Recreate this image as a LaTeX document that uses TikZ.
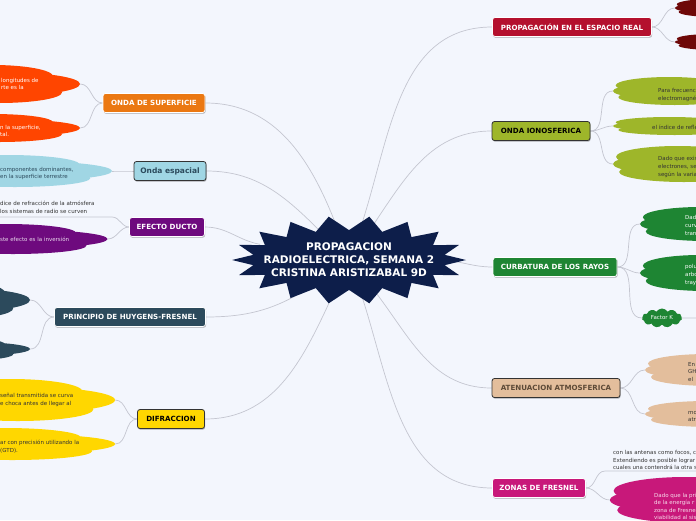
\documentclass[tikz,border=0pt]{standalone}
\usepackage{fontspec}
\setmainfont{DejaVu Sans}
\usetikzlibrary{shapes.geometric,shapes.symbols,shadows,backgrounds,positioning}
\definecolor{mmbg}{RGB}{243,246,253}
\definecolor{mmlink}{RGB}{196,198,208}
\definecolor{mmhub}{RGB}{13,30,74}
\definecolor{mmorange}{RGB}{235,120,18}
\definecolor{mmred}{RGB}{255,69,0}
\definecolor{mmsky}{RGB}{160,214,228}
\definecolor{mmslate}{RGB}{44,74,92}
\definecolor{mmpurple}{RGB}{110,10,126}
\definecolor{mmyellow}{RGB}{255,215,0}
\definecolor{mmcrimson}{RGB}{180,16,46}
\definecolor{mmmaroon}{RGB}{110,8,8}
\definecolor{mmolive}{RGB}{158,182,42}
\definecolor{mmgreen}{RGB}{30,133,51}
\definecolor{mmtan}{RGB}{227,190,156}
\definecolor{mmmagenta}{RGB}{200,24,122}
\definecolor{mmink}{RGB}{51,51,51}
\tikzset{
  branch/.style={rounded corners=2.5pt,minimum height=19pt,inner xsep=4pt,line width=.8pt,
    font=\bfseries\fontsize{7.1}{8}\selectfont,
    drop shadow={shadow xshift=.6pt,shadow yshift=-1.2pt,opacity=.3,fill=black}},
  darkbranch/.style={branch,draw=white,text=white},
  lightbranch/.style={branch,draw=mmink},
  leafbody/.style={ellipse,inner sep=0pt},
  note/.style={font=\fontsize{5.5}{7.6}\selectfont,align=left,anchor=west,inner sep=0pt},
  link/.style={draw=mmlink,line width=.7pt}
}
% cloud leaf: name, colour, x, y, width, height
\newcommand\leafblob[6]{%
  \fill[#2] (#3-.08*#5,#4-.2*#6) ellipse [x radius=.4*#5,y radius=.3*#6];
  \fill[#2] (#3-.04*#5,#4+.22*#6) ellipse [x radius=.42*#5,y radius=.28*#6];
  \node[leafbody,fill=#2,minimum width=#5pt,minimum height=.62*#6pt] (#1) at (#3,#4) {};}

\begin{document}
\begin{tikzpicture}[x=1pt,y=-1pt]
  \useasboundingbox (0,0) rectangle (696,520);
  \begin{pgfonlayer}{background}
    \fill[mmbg] (0,0) rectangle (696,520);
  \end{pgfonlayer}

  % central burst
  \fill[mmhub] (466,260) \foreach \i in {1,...,35}{
      -- ({349+117*(1-0.17*mod(\i,2))*cos(10*\i)},{260+44*(1-0.32*mod(\i,2))*sin(10*\i)})} -- cycle;
  \node[text=white,font=\bfseries\fontsize{10.5}{13}\selectfont,align=center] (hub) at (349,260)
    {PROPAGACION\\RADIOELECTRICA, SEMANA 2\\CRISTINA ARISTIZABAL 9D};

  % left branches
  \node[darkbranch,fill=mmorange,minimum width=102pt] (surf) at (154,103) {ONDA DE SUPERFICIE};
  \node[lightbranch,fill=mmsky,text=mmslate,minimum width=72pt,font=\bfseries\fontsize{7.5}{8}\selectfont] (spatial) at (170,171) {Onda espacial};
  \node[darkbranch,fill=mmpurple,minimum width=75pt] (ducto) at (167,227) {EFECTO DUCTO};
  \node[darkbranch,fill=mmslate,minimum width=151pt] (huyg) at (130,317) {PRINCIPIO DE HUYGENS-FRESNEL};
  \node[lightbranch,fill=mmyellow,text=black,minimum width=67pt] (difr) at (171,419) {DIFRACCION};

  % right branches
  \node[darkbranch,fill=mmcrimson,minimum width=159pt] (prop) at (572,27) {PROPAGACIÓN EN EL ESPACIO REAL};
  \node[lightbranch,fill=mmolive,text=black,minimum width=98pt] (iono) at (541,131) {ONDA IONOSFERICA};
  \node[darkbranch,fill=mmgreen,minimum width=124pt] (curb) at (555,267) {CURBATURA DE LOS RAYOS};
  \node[lightbranch,fill=mmtan,text=mmink!70!brown,minimum width=128pt] (aten) at (556,388) {ATENUACION ATMOSFERICA};
  \node[darkbranch,fill=mmmagenta,minimum width=93pt] (zonas) at (539,488) {ZONAS DE FRESNEL};

  % left leaves
  \leafblob{supa}{mmred}{5}{84}{150}{38}
  \node[note,text=white] (supatxt) at (1,84) {longitudes de\\rte es la};
  \leafblob{supb}{mmred}{5}{128}{150}{28}
  \node[note,text=white] (supbtxt) at (0,131) {n la superficie,\\tal.};
  \leafblob{spata}{mmsky}{22}{171}{180}{32}
  \node[note,text=mmslate] (spatatxt) at (0,173.5) {componentes dominantes,\\en la superficie terrestre};
  \node[note,text=mmink] (ductatxt) at (0,207.5) {dice de refracción de la atmósfera\\los sistemas de radio se curven};
  \coordinate (ductaend) at (112,217);
  \coordinate (ductafar) at (0,217);
  \leafblob{ductb}{mmpurple}{20}{239}{175}{30}
  \node[note,text=white!85!mmpurple] (ductbtxt) at (0,239) {ste efecto es la inversión};
  \leafblob{huyga}{mmslate}{-40}{300}{140}{38}
  \leafblob{huygb}{mmslate}{-40}{349}{140}{24}
  \leafblob{difra}{mmyellow}{25}{400}{180}{42}
  \node[note,text=mmink] (difratxt) at (0,400) {señal transmitida se curva\\e choca antes de llegar al};
  \leafblob{difrb}{mmyellow}{20}{444}{190}{32}
  \node[note,text=mmink] (difrbtxt) at (0,446.5) {ar con precisión utilizando la\\(GTD).};

  % right leaves
  \leafblob{propa}{mmmaroon}{720}{8}{90}{18}
  \leafblob{propb}{mmmaroon}{720}{42}{90}{16}
  \leafblob{ionoa}{mmolive}{680}{91}{134}{28}
  \node[note,text=mmink] (ionoatxt) at (658,95) {Para frecuencia\\electromagné};
  \leafblob{ionob}{mmolive}{680}{126}{134}{18}
  \node[note,text=mmink] (ionobtxt) at (652,127) {el índice de refle};
  \leafblob{ionoc}{mmolive}{690}{164}{154}{36}
  \node[note,text=mmink] (ionoctxt) at (658,167) {Dado que exis\\electrones, se\\según la varia};
  \leafblob{curba}{mmgreen}{712}{224}{144}{34}
  \node[note,text=white] (curbatxt) at (685,225.5) {Dad\\curv\\tran};
  \leafblob{curbb}{mmgreen}{712}{273}{144}{36}
  \node[note,text=white] (curbbtxt) at (685,275) {polu\\arbo\\tray};
  \node[cloud,cloud puffs=11,cloud puff arc=120,cloud ignores aspect,inner sep=0pt,fill=mmgreen,text=white,minimum width=40pt,minimum height=19pt,font=\fontsize{5.5}{6}\selectfont] (curbc) at (662,318) {Factor K};
  \coordinate (curbcfar) at (696,318);
  \leafblob{atena}{mmtan}{720}{370}{150}{32}
  \node[note,text=mmink] (atenatxt) at (688,372) {En\\GH\\el};
  \leafblob{atenb}{mmtan}{720}{414}{150}{26}
  \node[note,text=mmink] (atenbtxt) at (688,416.5) {mo\\atr};
  \node[note,text=mmink] (zonasatxt) at (613,460) {con las antenas como focos, c\\Extendiendo es posible lograr\\cuales una contendrá la otra s};
  \coordinate (zonasaend) at (605,471);
  \coordinate (zonasafar) at (696,471);
  \leafblob{zonasb}{mmmagenta}{700}{500}{180}{46}
  \node[note,text=white!85!mmmagenta] (zonasbtxt) at (654,506.5) {Dado que la pri\\de la energía r\\zona de Fresne\\viabilidad al sis};

  \begin{pgfonlayer}{background}
    \draw[link] (hub) to[out=110,in=0] (surf.east);
    \draw[link] (hub) to[out=135,in=0] (spatial.east);
    \draw[link] (hub) to[out=170,in=0] (ducto.east);
    \draw[link] (hub) to[out=215,in=0] (huyg.east);
    \draw[link] (hub) to[out=245,in=0] (difr.east);
    \draw[link] (hub) to[out=70,in=180] (prop.west);
    \draw[link] (hub) to[out=55,in=180] (iono.west);
    \draw[link] (hub) to[out=0,in=180] (curb.west);
    \draw[link] (hub) to[out=-50,in=180] (aten.west);
    \draw[link] (hub) to[out=-70,in=180] (zonas.west);
    \draw[link] (surf.west) to[out=180,in=0] (supa.east);
    \draw[link] (surf.west) to[out=180,in=0] (supb.east);
    \draw[link] (spatial.west) to[out=180,in=0] (spata.east);
    \draw[link] (ducto.west) to[out=180,in=0] (ductaend) -- (ductafar);
    \draw[link] (ducto.west) to[out=180,in=0] (ductb.east);
    \draw[link] (huyg.west) to[out=180,in=0] (huyga.east);
    \draw[link] (huyg.west) to[out=180,in=0] (huygb.east);
    \draw[link] (difr.west) to[out=180,in=0] (difra.east);
    \draw[link] (difr.west) to[out=180,in=0] (difrb.east);
    \draw[link] (prop.east) to[out=0,in=180] (propa.west);
    \draw[link] (prop.east) to[out=0,in=180] (propb.west);
    \draw[link] (iono.east) to[out=0,in=180] (ionoa.west);
    \draw[link] (iono.east) to[out=0,in=180] (ionob.west);
    \draw[link] (iono.east) to[out=0,in=180] (ionoc.west);
    \draw[link] (curb.east) to[out=0,in=180] (curba.west);
    \draw[link] (curb.east) to[out=0,in=180] (curbb.west);
    \draw[link] (curb.east) to[out=0,in=180] (curbc.west);
    \draw[link] (curbc.east) -- (curbcfar);
    \draw[link] (aten.east) to[out=0,in=180] (atena.west);
    \draw[link] (aten.east) to[out=0,in=180] (atenb.west);
    \draw[link] (zonas.east) to[out=0,in=180] (zonasaend) -- (zonasafar);
    \draw[link] (zonas.east) to[out=0,in=180] (zonasb.west);
  \end{pgfonlayer}
\end{tikzpicture}
\end{document}
